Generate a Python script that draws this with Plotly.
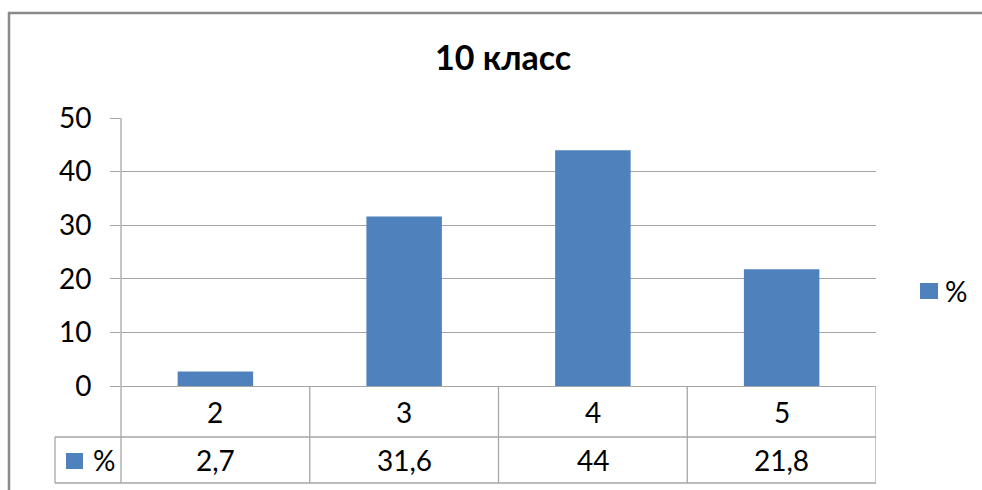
import plotly.graph_objects as go

# ---- data ----
categories = ["2", "3", "4", "5"]
values = [2.7, 31.6, 44, 21.8]
series_name = "%"
title_text = "10 класс"
y_ticks = [0, 10, 20, 30, 40, 50]

# ---- styling ----
BAR = "#4F81BD"
GRID = "#A6A6A6"
FRAME = "#898989"
FONT = "Lato, 'Open Sans', sans-serif"
W, H = 982, 490
L, R, T, B = 121, 106, 118, 104
PW, PH = W - L - R, H - T - B


def px_x(px):
    return (px - L) / PW


def px_y(py):
    return (H - B - py) / PH


def fmt(v):
    return f"{v:g}".replace(".", ",")


fig = go.Figure()
fig.add_trace(go.Bar(x=categories, y=values, name=series_name,
                     marker=dict(color=BAR, line=dict(width=0)),
                     showlegend=False))

shapes = []
annotations = []

# outer chart frame (top and left edges visible in the picture)
shapes.append(dict(type="line", xref="paper", yref="paper",
                   x0=px_x(8), x1=px_x(990), y0=px_y(13), y1=px_y(13),
                   line=dict(color=FRAME, width=2.5), layer="below"))
shapes.append(dict(type="line", xref="paper", yref="paper",
                   x0=px_x(9), x1=px_x(9), y0=px_y(500), y1=px_y(12),
                   line=dict(color=FRAME, width=2.5), layer="below"))

row1 = px_y(437)
row2 = px_y(483)
# table horizontal lines
for yy in (row1, row2):
    shapes.append(dict(type="line", xref="paper", yref="paper",
                       x0=px_x(55), x1=1, y0=yy, y1=yy,
                       line=dict(color=GRID, width=1.3)))
# table left border of legend cell
shapes.append(dict(type="line", xref="paper", yref="paper",
                   x0=px_x(55), x1=px_x(55), y0=row2, y1=row1,
                   line=dict(color=GRID, width=1.3)))
# axis line through table
shapes.append(dict(type="line", xref="paper", yref="paper",
                   x0=0, x1=0, y0=row2, y1=1,
                   line=dict(color=GRID, width=1.3)))
# category boundaries
for i in range(len(categories)):
    xb = i + 0.5
    shapes.append(dict(type="line", xref="x", yref="paper",
                       x0=xb, x1=xb, y0=row2, y1=0,
                       line=dict(color=GRID, width=1.3)))

# table text (category index positions on the category axis)
for i, (c, v) in enumerate(zip(categories, values)):
    annotations.append(dict(x=i, xref="x", y=(0 + row1) / 2, yref="paper",
                            text=c, showarrow=False, yanchor="middle",
                            font=dict(family=FONT, size=28, color="#000")))
    annotations.append(dict(x=i, xref="x", y=(row1 + row2) / 2, yref="paper",
                            text=fmt(v), showarrow=False, yanchor="middle",
                            font=dict(family=FONT, size=28, color="#000")))

# legend key inside table
shapes.append(dict(type="rect", xref="paper", yref="paper",
                   x0=px_x(66), x1=px_x(83), y0=px_y(469), y1=px_y(453),
                   fillcolor=BAR, line=dict(width=0)))
annotations.append(dict(x=px_x(91), xref="paper", y=(row1 + row2) / 2, yref="paper",
                        text=series_name, showarrow=False, xanchor="left",
                        yanchor="middle",
                        font=dict(family=FONT, size=28, color="#000")))

# legend on the right
shapes.append(dict(type="rect", xref="paper", yref="paper",
                   x0=px_x(920), x1=px_x(938), y0=px_y(299), y1=px_y(283),
                   fillcolor=BAR, line=dict(width=0)))
annotations.append(dict(x=px_x(943), xref="paper", y=px_y(291), yref="paper",
                        text=series_name, showarrow=False, xanchor="left",
                        yanchor="middle",
                        font=dict(family=FONT, size=28, color="#000")))

# title
annotations.append(dict(x=px_x(503), xref="paper", y=px_y(56), yref="paper",
                        text="<b>" + title_text + "</b>", showarrow=False,
                        xanchor="center", yanchor="middle",
                        font=dict(family=FONT, size=34, color="#000")))

fig.update_layout(
    width=W, height=H,
    margin=dict(l=L, r=R, t=T, b=B, pad=0),
    paper_bgcolor="white", plot_bgcolor="white",
    bargap=0.6,
    shapes=shapes,
    annotations=annotations,
    showlegend=False,
    xaxis=dict(type="category", range=[-0.5, len(categories) - 0.5],
               showticklabels=False, showgrid=False, zeroline=False,
               showline=False, ticks="", fixedrange=True),
    yaxis=dict(range=[0, 50], tickvals=y_ticks,
               ticktext=[str(t) for t in y_ticks],
               showgrid=True, gridcolor=GRID, gridwidth=1.3,
               zeroline=True, zerolinecolor=GRID, zerolinewidth=1.3,
               showline=False, ticks="outside", ticklen=10, tickcolor=GRID,
               tickwidth=1.3, ticklabelstandoff=13,
               tickfont=dict(family=FONT, size=28, color="#000"),
               fixedrange=True),
)

fig.write_html(
    "out.html",
    config={"displayModeBar": False},
    post_script="document.body.style.margin='0';document.body.style.overflow='hidden';",
)
